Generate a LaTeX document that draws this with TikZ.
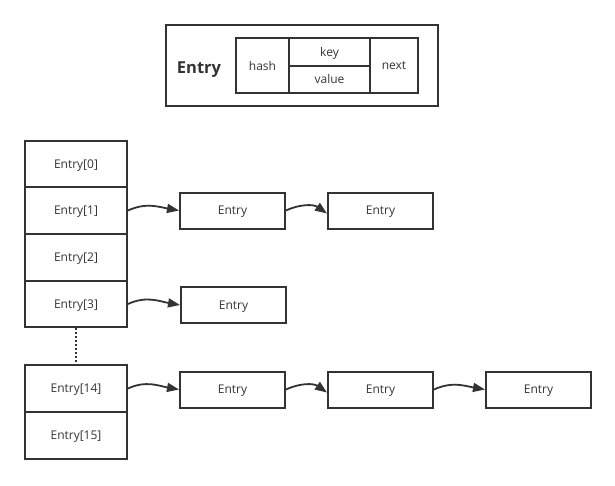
\documentclass[tikz,border=0pt]{standalone}
\usepackage{fontspec}
\setmainfont{Open Sans}
\usetikzlibrary{arrows.meta}
\definecolor{inkgray}{RGB}{51,51,51}

\begin{document}
\begin{tikzpicture}[x=1pt, y=-1pt, line width=2pt, draw=inkgray, text=inkgray,
    every node/.style={draw, rectangle, inner sep=0pt, line width=2pt, text depth=0pt,
      font=\fontsize{12}{14}\selectfont},
    cell/.style={minimum width=102pt, minimum height=46.7pt},
    entry/.style={minimum width=105pt, minimum height=36pt},
    link/.style={-{Triangle[length=12pt, width=9pt]}, line width=1.8pt}]
  \useasboundingbox (0,0) rectangle (615,485);
  % record layout
  \node[minimum width=272pt, minimum height=81pt] (rec) at (302,65.5) {};
  \node[draw=none, font=\fontsize{16.5}{19}\selectfont\bfseries] (title) at (199,68) {Entry};
  \node[minimum width=53pt, minimum height=55pt] (hash) at (262.5,65.5) {hash};
  \node[minimum width=81pt, minimum height=27.5pt] (key) at (329.5,51.75) {key};
  \node[minimum width=81pt, minimum height=27.5pt] (value) at (329.5,79.25) {value};
  \node[minimum width=48pt, minimum height=55pt] (next) at (394,65.5) {next};
  % table
  \node[cell] (t0) at (76,164) {Entry[0]};
  \node[cell] (t1) at (76,210.5) {Entry[1]};
  \node[cell] (t2) at (76,257.5) {Entry[2]};
  \node[cell] (t3) at (76,304) {Entry[3]};
  \node[cell] (t14) at (76,388.5) {Entry[14]};
  \node[cell] (t15) at (76,435.5) {Entry[15]};
  \draw[dotted, line width=2pt] (t3.south) -- (t14.north);
  % chains
  \node[entry] (a1) at (232.5,210.5) {Entry};
  \node[entry] (a2) at (380.5,210.5) {Entry};
  \node[entry] (b1) at (233.5,305) {Entry};
  \node[entry] (c1) at (232.5,389.5) {Entry};
  \node[entry] (c2) at (380.5,389.5) {Entry};
  \node[entry] (c3) at (538.5,389.5) {Entry};
  \foreach \x/\y in {t1/a1,t3/b1,t14/c1,c2/c3}
    \draw[link] (\x.east) to[out=25, in=170] (\y.west);
  \foreach \x/\y in {a1/a2,c1/c2}
    \draw[link] (\x.east) to[out=25, in=145] ([yshift=-3pt]\y.west);
\end{tikzpicture}
\end{document}
